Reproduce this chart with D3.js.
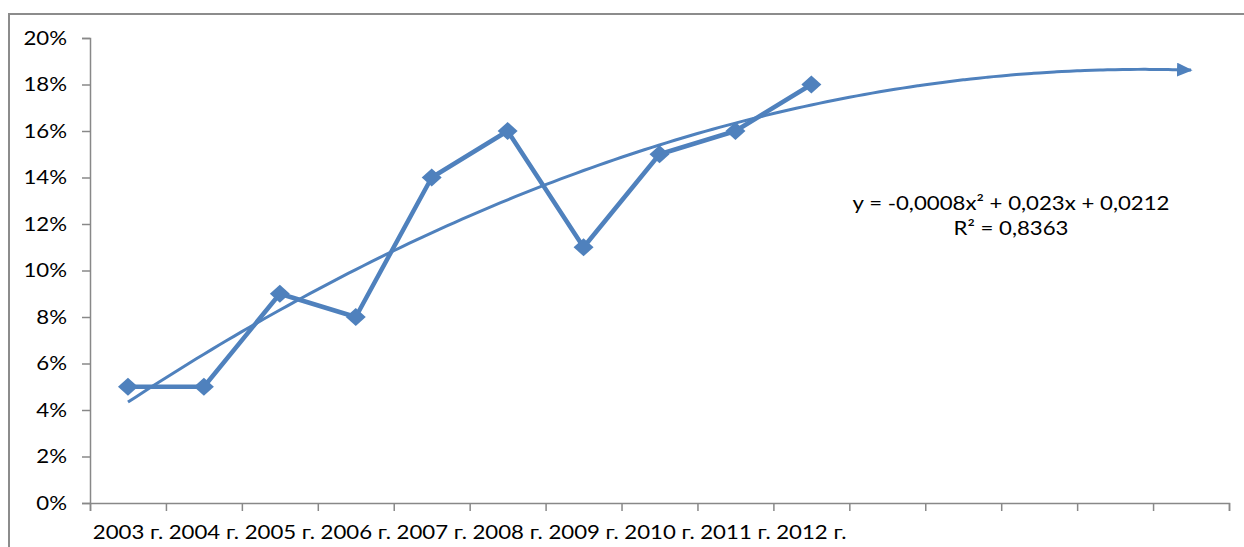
<!DOCTYPE html>
<html>
<head>
<meta charset="utf-8">
<script src="https://cdn.jsdelivr.net/npm/d3@7"></script>
<style>
  body { margin: 0; background: #fff; }
  svg { display: block; }
  text { font-family: Lato, "Open Sans", sans-serif; fill: #000; }
</style>
</head>
<body>
<div id="chart"></div>
<script>
// data
const years = ["2003 г.", "2004 г.", "2005 г.", "2006 г.", "2007 г.",
               "2008 г.", "2009 г.", "2010 г.", "2011 г.", "2012 г."];
const shares = [0.05, 0.05, 0.09, 0.08, 0.14, 0.16, 0.11, 0.15, 0.16, 0.18];
const forecastPeriods = 5;
const trendCoef = [-0.0008, 0.023, 0.0212]; // a*x^2 + b*x + c
const yTicks = [0, 0.02, 0.04, 0.06, 0.08, 0.10, 0.12, 0.14, 0.16, 0.18, 0.20];
const eqLines = ["y = -0,0008x² + 0,023x + 0,0212", "R² = 0,8363"];

const W = 1244, H = 547;
const margin = {top: 38, right: 15, bottom: 44, left: 90};
const color = "#4f81bd";
const slots = years.length + forecastPeriods;
const stretch = 1.17; // the source image is a bit wider than tall

const svg = d3.select("#chart").append("svg")
  .attr("width", W)
  .attr("height", H);

// outer frame (only top and left edges are visible in the picture)
svg.append("path")
  .attr("d", `M9,${H} V14 H${W}`)
  .attr("fill", "none")
  .attr("stroke", "#8c8c8c")
  .attr("stroke-width", 2);

const x = d3.scaleLinear()
  .domain([0, slots])
  .range([margin.left, W - margin.right]);

const y = d3.scaleLinear()
  .domain([0, 0.2])
  .range([H - margin.bottom, margin.top]);

// y axis
const yAxis = svg.append("g")
  .attr("transform", `translate(${margin.left},0)`)
  .call(d3.axisLeft(y).tickValues(yTicks).tickFormat(d3.format(".0%")).tickSize(8));

// x axis
const xAxis = svg.append("g")
  .attr("transform", `translate(0,${y(0)})`)
  .call(d3.axisBottom(x).tickValues(d3.range(0, slots + 1)).tickFormat("").tickSize(8));

[yAxis, xAxis].forEach(g => {
  g.select(".domain").attr("stroke", "#888").attr("stroke-width", 1.5);
  g.selectAll(".tick line").attr("stroke", "#888").attr("stroke-width", 1.5);
});
yAxis.selectAll("text")
  .style("font-size", "19px")
  .attr("fill", "#000")
  .attr("x", -23 / stretch)
  .attr("transform", `scale(${stretch},1)`);

// category labels
svg.append("g")
  .selectAll("text")
  .data(years)
  .join("text")
  .attr("transform", (d, i) => `translate(${x(i + 0.5)},539) scale(${stretch},1)`)
  .attr("text-anchor", "middle")
  .style("font-size", "19px")
  .text(d => d);

// arrow head for the trend line
svg.append("defs").append("marker")
  .attr("id", "arrow")
  .attr("viewBox", "0 0 10 9")
  .attr("refX", 9)
  .attr("refY", 4.5)
  .attr("markerWidth", 5.2)
  .attr("markerHeight", 4.7)
  .attr("markerUnits", "strokeWidth")
  .attr("orient", "auto")
  .append("path")
  .attr("d", "M0,0 L10,4.5 L0,9 Z")
  .attr("fill", color);

// polynomial trend line, from first period through the forecast
const trend = t => trendCoef[0] * t * t + trendCoef[1] * t + trendCoef[2];
const tVals = d3.range(1, slots + 0.001, 0.1);

svg.append("path")
  .datum(tVals)
  .attr("fill", "none")
  .attr("stroke", color)
  .attr("stroke-width", 3)
  .attr("marker-end", "url(#arrow)")
  .attr("d", d3.line().x(t => x(t - 0.5)).y(t => y(trend(t))).curve(d3.curveBasis));

// data series
svg.append("path")
  .datum(shares)
  .attr("fill", "none")
  .attr("stroke", color)
  .attr("stroke-width", 4.5)
  .attr("stroke-linejoin", "round")
  .attr("d", d3.line().x((d, i) => x(i + 0.5)).y(d => y(d)));

svg.append("g")
  .selectAll("path")
  .data(shares)
  .join("path")
  .attr("transform", (d, i) => `translate(${x(i + 0.5)},${y(d)})`)
  .attr("d", "M0,-9 L10,0 L0,9 L-10,0 Z")
  .attr("fill", color);

// equation label
svg.append("g")
  .selectAll("text")
  .data(eqLines)
  .join("text")
  .attr("transform", (d, i) => `translate(1011,${210 + i * 25}) scale(${stretch},1)`)
  .attr("text-anchor", "middle")
  .style("font-size", "19px")
  .text(d => d);
</script>
</body>
</html>
